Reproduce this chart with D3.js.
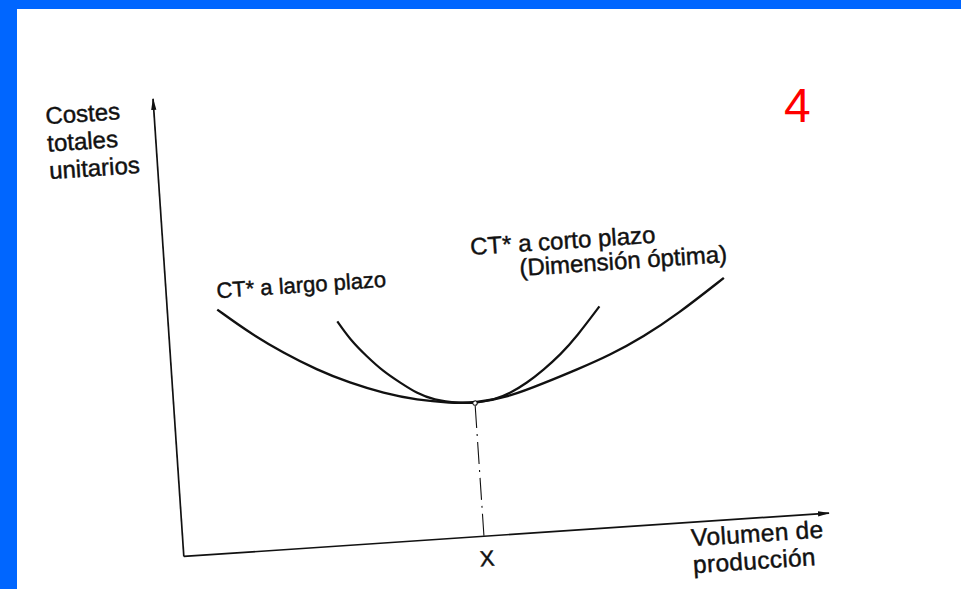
<!DOCTYPE html>
<html>
<head>
<meta charset="utf-8">
<script src="https://cdn.jsdelivr.net/npm/d3@7"></script>
<style>
  html, body { margin: 0; padding: 0; background: #ffffff; }
  svg { display: block; }
  text { font-family: "Liberation Sans", Arial, Helvetica, sans-serif; fill: #111; }
  .ink { stroke: #111; stroke-width: 0.45px; }
</style>
</head>
<body>
<script>
// Long-run average total cost (envelope curve)
const longRunVolume = [7.8, 12.6, 17.6, 22.5, 27.5, 32.6, 37.7, 42.8, 46.6, 52.1, 57.4, 62.7, 68.0, 73.3, 78.7, 86.3];
const longRunCost   = [53.1, 47.5, 42.7, 38.6, 35.2, 32.5, 30.5, 29.4, 29.0, 29.9, 32.3, 34.8, 37.5, 41.0, 45.3, 52.6];

// Short-run average total cost of the optimal plant size
const shortRunVolume = [26.2, 28.0, 30.4, 32.8, 35.3, 37.7, 40.2, 44.3, 46.6, 49.5, 52.2, 54.8, 57.5, 60.3, 63.0, 66.8];
const shortRunCost   = [48.8, 44.6, 40.7, 37.2, 34.5, 32.0, 30.3, 29.2, 29.0, 29.4, 30.7, 32.6, 35.2, 38.3, 42.0, 48.2];

// Tangency point: optimal output X
const optimumVolume = [46.6];
const optimumCost = [29.0];

const yTitleLines = ["Costes", "totales", "unitarios"];
const xTitleLines = ["Volumen de", "producción"];
const longRunLabel = ["CT* a largo plazo"];
const shortRunLabel = ["CT* a corto plazo", "(Dimensión óptima)"];
const optimumLabel = "X";
const slideNumber = "4";

const W = 961, H = 589;
const svg = d3.select("body").append("svg").attr("width", W).attr("height", H);

// slide frame: blue bands on the top and left edges
svg.append("rect").attr("x", 0).attr("y", 0).attr("width", W).attr("height", H).attr("fill", "#ffffff");
svg.append("rect").attr("x", 0).attr("y", 0).attr("width", W).attr("height", 9).attr("fill", "#0066ff");
svg.append("rect").attr("x", 0).attr("y", 0).attr("width", 17).attr("height", H).attr("fill", "#0066ff");

// arrowhead for the axes
const defs = svg.append("defs");
defs.append("marker")
  .attr("id", "arrow")
  .attr("markerUnits", "userSpaceOnUse")
  .attr("viewBox", "0 -4 12 8")
  .attr("refX", 11).attr("refY", 0)
  .attr("markerWidth", 12).attr("markerHeight", 8)
  .attr("orient", "auto")
  .append("path").attr("d", "M0,-2.6L12,0L0,2.6Z").attr("fill", "#111");

// the diagram sits slightly tilted on the page
const plot = svg.append("g").attr("transform", "translate(183.3,556) rotate(-3.85)");

const x = d3.scaleLinear().domain([0, 100]).range([0, 646.6]);
const y = d3.scaleLinear().domain([0, 100]).range([0, -458.6]);

// axes without ticks, arrow at the far end
const xAxis = plot.append("g").call(d3.axisBottom(x).tickValues([]).tickSizeOuter(0));
const yAxis = plot.append("g").call(d3.axisLeft(y).tickValues([]).tickSizeOuter(0));
[xAxis, yAxis].forEach(a => {
  a.select(".domain").attr("stroke", "#111").attr("stroke-width", 1.7).attr("marker-end", "url(#arrow)");
});

const line = d3.line()
  .x(d => x(d[0]))
  .y(d => y(d[1]))
  .curve(d3.curveBasis);

const longRun = longRunVolume.map((v, i) => [v, longRunCost[i]]);
const shortRun = shortRunVolume.map((v, i) => [v, shortRunCost[i]]);

// projection of the optimum onto the volume axis
plot.append("line")
  .attr("x1", x(optimumVolume[0])).attr("y1", y(optimumCost[0]) + 3)
  .attr("x2", x(optimumVolume[0])).attr("y2", y(0))
  .attr("stroke", "#111").attr("stroke-width", 1.1)
  .attr("stroke-dasharray", "22,6,2,6");

plot.append("path").datum(longRun).attr("d", line)
  .attr("fill", "none").attr("stroke", "#111").attr("stroke-width", 2.4);
plot.append("path").datum(shortRun).attr("d", line)
  .attr("fill", "none").attr("stroke", "#111").attr("stroke-width", 2.2);

plot.append("circle")
  .attr("cx", x(optimumVolume[0])).attr("cy", y(optimumCost[0]))
  .attr("r", 2.2).attr("fill", "#fff").attr("stroke", "#111").attr("stroke-width", 1);

// y-axis title
plot.append("text").attr("class", "ink").attr("font-size", 24)
  .selectAll("tspan").data(yTitleLines).join("tspan")
  .attr("x", -108).attr("y", (d, i) => -440 + i * 27.5)
  .text(d => d);

// x-axis title
plot.append("text").attr("class", "ink").attr("font-size", 24.5).attr("letter-spacing", 0.3)
  .selectAll("tspan").data(xTitleLines).join("tspan")
  .attr("x", 508).attr("y", (d, i) => 24.5 + i * 27)
  .text(d => d);

// curve labels
plot.append("text").attr("class", "ink").attr("font-size", 22)
  .attr("x", 50.9).attr("y", -255)
  .text(longRunLabel[0]);

plot.append("text").attr("class", "ink").attr("font-size", 24)
  .selectAll("tspan").data(shortRunLabel).join("tspan")
  .attr("x", (d, i) => i === 0 ? 307 : 354.7)
  .attr("y", (d, i) => -281 + i * 24.2)
  .text(d => d);

// optimal output mark under the axis
plot.append("text").attr("class", "ink").attr("font-size", 22).attr("text-anchor", "middle")
  .attr("x", x(optimumVolume[0]) + 1.5).attr("y", 30.4)
  .text(optimumLabel);

// slide number
svg.append("text").attr("x", 784).attr("y", 122)
  .attr("font-size", 48).style("fill", "#ff0000")
  .text(slideNumber);
</script>
</body>
</html>
